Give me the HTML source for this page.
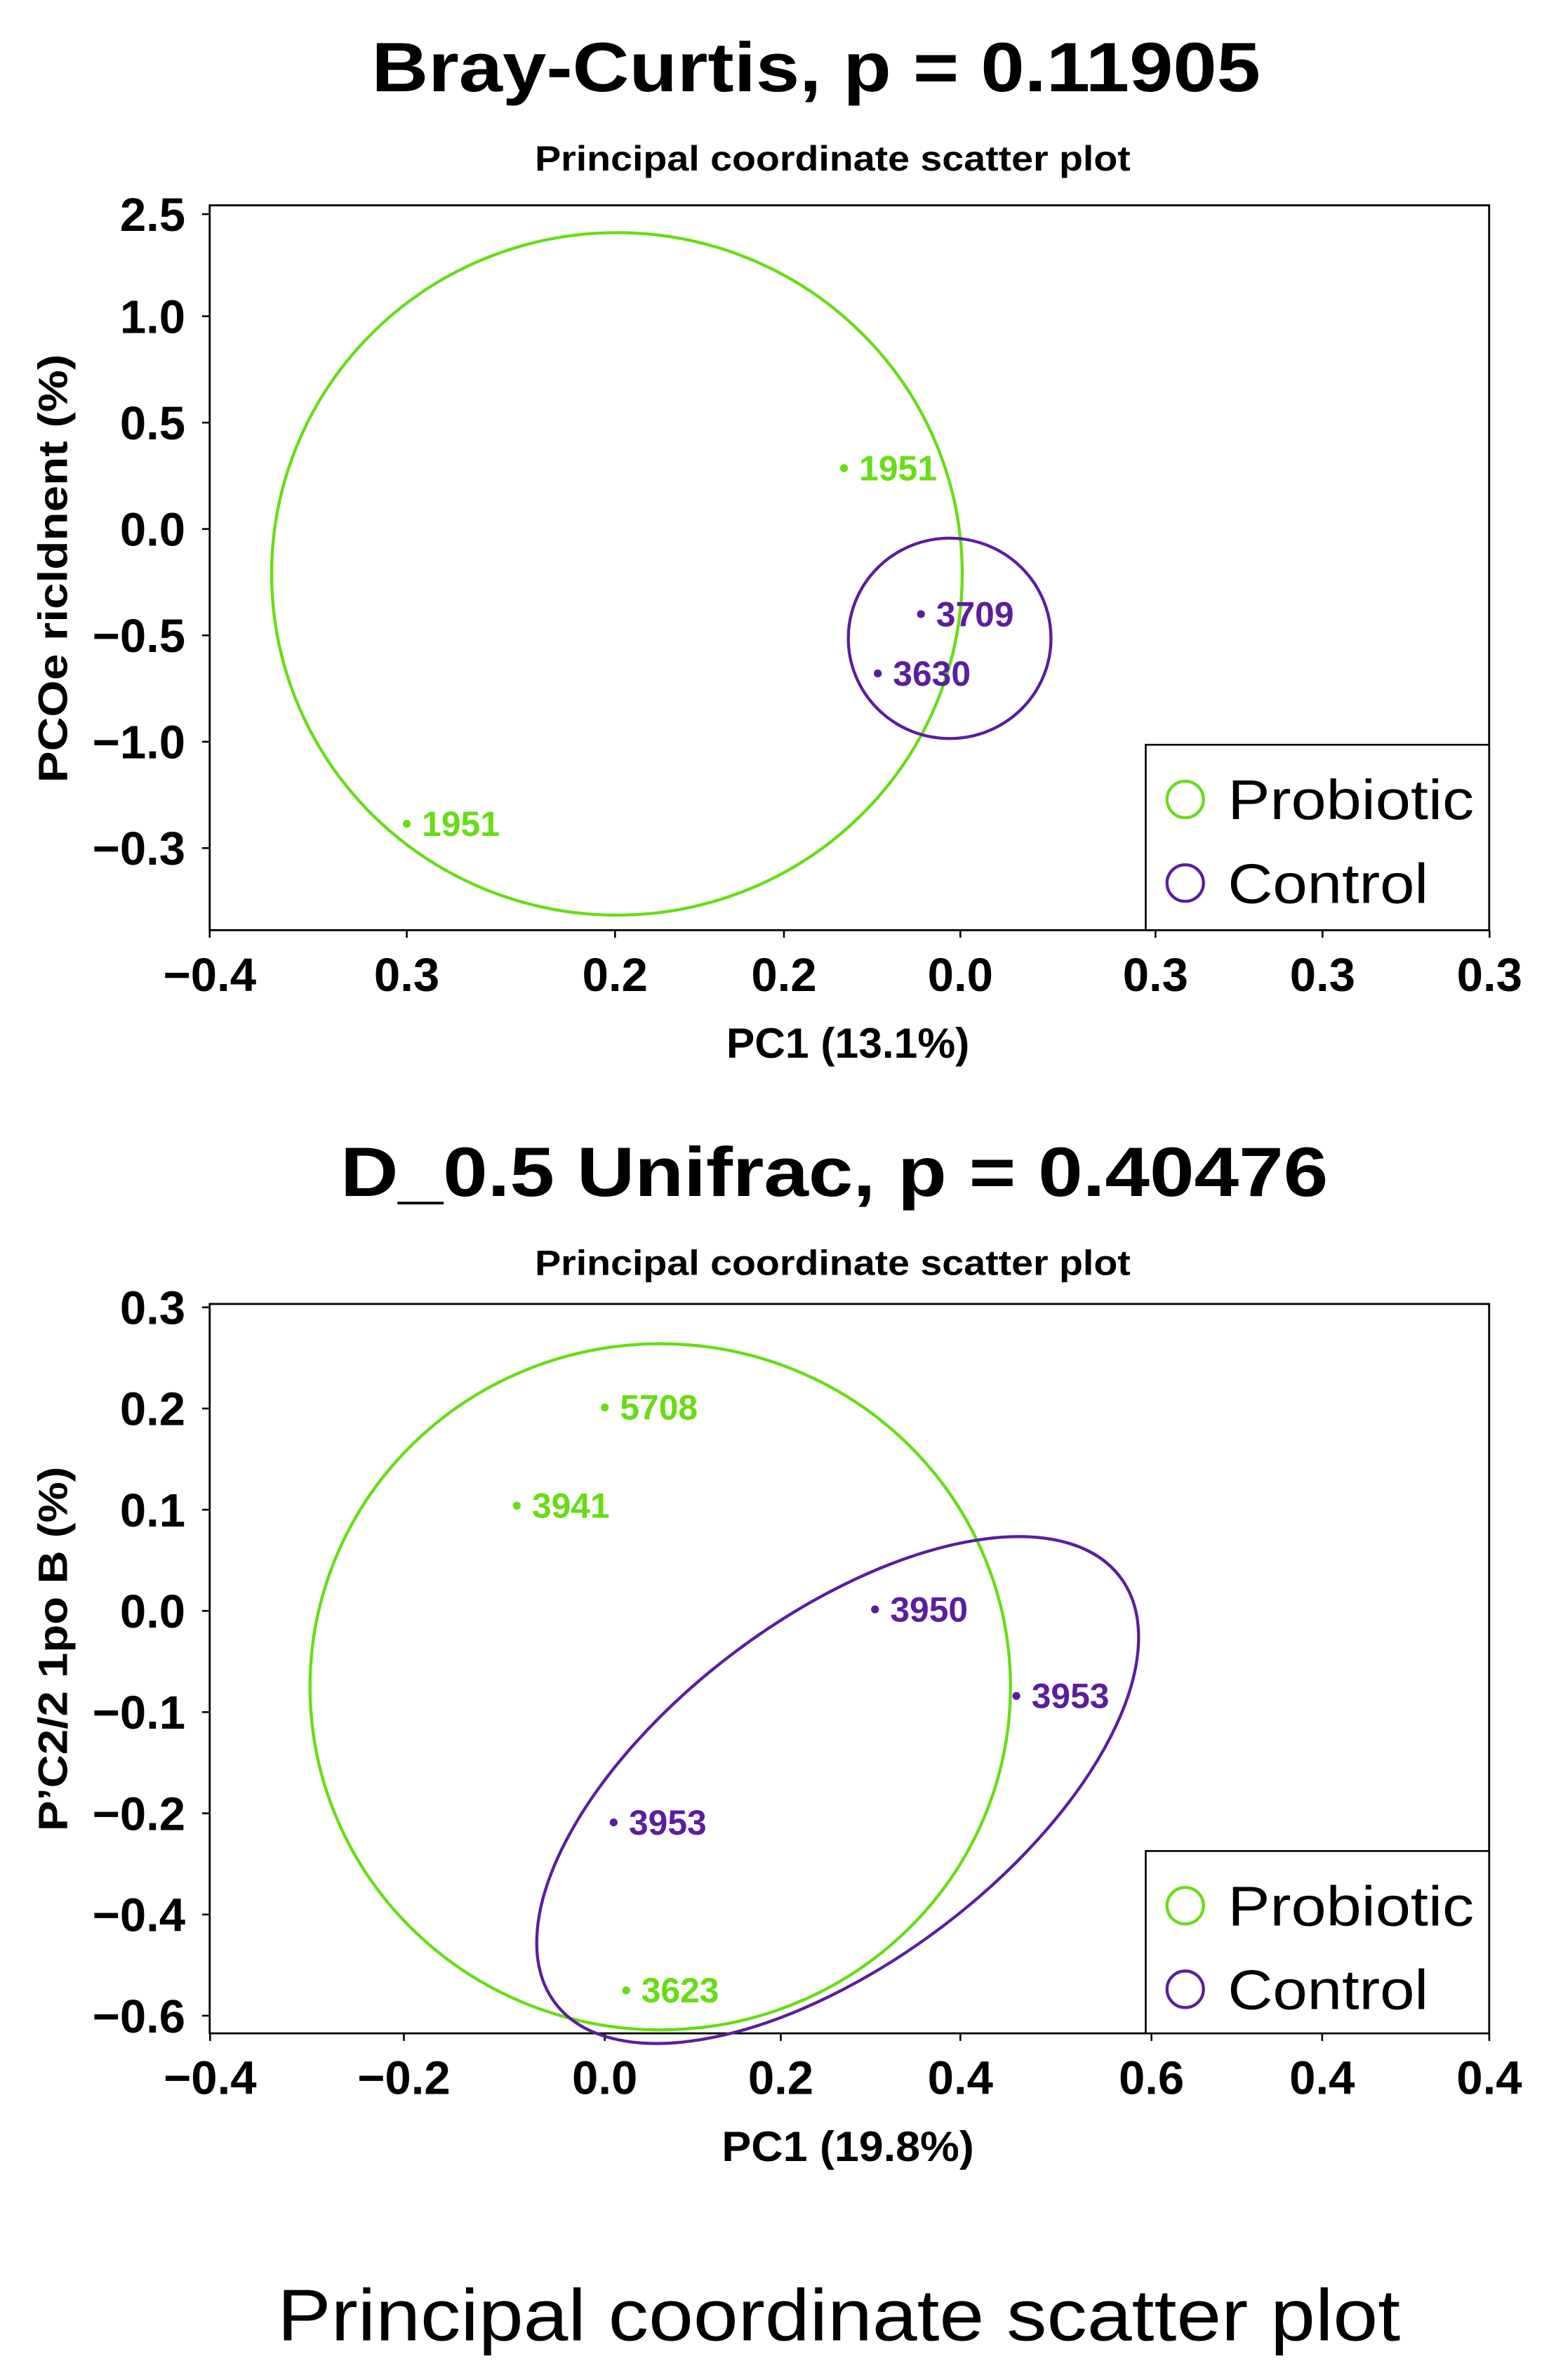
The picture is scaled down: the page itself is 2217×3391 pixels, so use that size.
<!DOCTYPE html>
<html><head><meta charset="utf-8">
<style>
html,body{margin:0;padding:0;background:#fff;}
svg{display:block;font-family:"Liberation Sans",sans-serif;}
</style></head>
<body>
<svg id="fig" width="2217" height="3391" viewBox="0 0 1024 1566" xmlns="http://www.w3.org/2000/svg">
<rect width="1024" height="1566" fill="#fff"/>
<text x="537" y="60" text-anchor="middle" font-size="46" font-weight="bold" textLength="585" lengthAdjust="spacingAndGlyphs">Bray-Curtis, p = 0.11905</text>
<text x="548" y="112" text-anchor="middle" font-size="23" font-weight="bold" textLength="392" lengthAdjust="spacingAndGlyphs">Principal coordinate scatter plot</text>
<text x="549" y="787" text-anchor="middle" font-size="46" font-weight="bold" textLength="650" lengthAdjust="spacingAndGlyphs">D_0.5 Unifrac, p = 0.40476</text>
<text x="548" y="839" text-anchor="middle" font-size="23" font-weight="bold" textLength="392" lengthAdjust="spacingAndGlyphs">Principal coordinate scatter plot</text>
<text x="552" y="1540" text-anchor="middle" font-size="48" textLength="739" lengthAdjust="spacingAndGlyphs">Principal coordinate scatter plot</text>
<g id="top"></g>
<g id="bot"></g>
</svg>
<script>
const GREEN = "#66dd14", PURPLE = "#5a1e9e";
// ---- Top chart data ----
const topXTickValues = [-0.4, -0.295, -0.184, -0.094, 0, 0.104, 0.193, 0.282];
const topXTickLabels = ["\u22120.4","0.3","0.2","0.2","0.0","0.3","0.3","0.3"];
const topYTickValues = [1.48, 1.0, 0.5, 0, -0.5, -1.0, -1.5];
const topYTickLabels = ["2.5","1.0","0.5","0.0","\u22120.5","\u22121.0","\u22120.3"];
const topPointX = [-0.062, -0.295, -0.021, -0.044];
const topPointY = [0.286, -1.386, -0.4, -0.679];
const topPointLabels = ["1951","1951","3709","3630"];
const topPointGroup = [0, 0, 1, 1];
const topEllCx = [-0.183, -0.0057];
const topEllCy = [-0.211, -0.514];
const topEllRx = [0.184, 0.054];
const topEllRy = [1.604, 0.471];
// ---- Bottom chart data ----
const botXTickValues = [-0.444, -0.226, 0, 0.198, 0.4, 0.615, 0.807, 0.995];
const botXTickLabels = ["\u22120.4","\u22120.2","0.0","0.2","0.4","0.6","0.4","0.4"];
const botYTickValues = [0.3, 0.2, 0.1, 0, -0.1, -0.2, -0.3, -0.4];
const botYTickLabels = ["0.3","0.2","0.1","0.0","\u22120.1","\u22120.2","\u22120.4","\u22120.6"];
const botPointX = [0, -0.099, 0.024, 0.304, 0.463, 0.010];
const botPointY = [0.201, 0.104, -0.375, 0.0015, -0.084, -0.209];
const botPointLabels = ["5708","3941","3623","3950","3953","3953"];
const botPointGroup = [0, 0, 0, 1, 1, 1];
const botEllCx = [0.0624, 0.262];
const botEllCy = [-0.075, -0.177];
const botEllRx = [0.394, 0.398];
const botEllRy = [0.339, 0.170];
const botEllRot = [0, -37];
const groupNames = ["Probiotic","Control"];

const NS = "http://www.w3.org/2000/svg";
function mk(parent, tag, attrs, text){
  const e = document.createElementNS(NS, tag);
  for (const k in attrs) e.setAttribute(k, attrs[k]);
  if (text !== undefined) e.textContent = text;
  parent.appendChild(e);
  return e;
}
function drawChart(g, cfg){
  const L=138, R=980, T=cfg.top, B=cfg.bottom;
  const sx = v => cfg.x0 + v*cfg.kx;
  const sy = v => cfg.y0 - v*cfg.ky;
  const box = mk(g,'rect',{x:L,y:T,width:R-L,height:B-T,fill:'none',stroke:'#000','stroke-width':1.3});
  
  
  cfg.xt.forEach((v,i)=>{
    const x=sx(v);
    mk(g,'line',{x1:x,y1:B,x2:x,y2:B+5,stroke:'#000','stroke-width':1.2});
    const t=mk(g,'text',{x:x,y:B+40,'text-anchor':'middle','font-size':31,'font-weight':'bold'},cfg.xl[i]);
    
    
  });
  cfg.yt.forEach((v,i)=>{
    const y=sy(v);
    mk(g,'line',{x1:L-5,y1:y,x2:L,y2:y,stroke:'#000','stroke-width':1.2});
    const t=mk(g,'text',{x:L-16,y:y+11,'text-anchor':'end','font-size':31,'font-weight':'bold'},cfg.yl[i]);
    
    
  });
  const xt=mk(g,'text',{x:558,y:B+84,'text-anchor':'middle','font-size':28,'font-weight':'bold',textLength:cfg.xtLen,lengthAdjust:'spacingAndGlyphs'},cfg.xtitle);
  
  
  const yc=cfg.ytc;
  const yt=mk(g,'text',{x:44,y:yc,'text-anchor':'middle','font-size':27,'font-weight':'bold',transform:`rotate(-90 44 ${yc})`,textLength:cfg.ytLen,lengthAdjust:'spacingAndGlyphs'},cfg.ytitle);
  
  
  cfg.ecx.forEach((cx,i)=>{
    const px=sx(cx), py=sy(cfg.ecy[i]);
    const rot = cfg.erot ? cfg.erot[i] : 0;
    const e=mk(g,'ellipse',{cx:px,cy:py,rx:cfg.erx[i]*cfg.kx,ry:cfg.ery[i]*cfg.ky,fill:'none',stroke:i===0?GREEN:PURPLE,'stroke-width':2,transform:`rotate(${rot} ${px} ${py})`});
    
    
  });
  cfg.px.forEach((v,i)=>{
    const x=sx(v), y=sy(cfg.py[i]);
    const col = cfg.pg[i]===0?GREEN:PURPLE;
    const c=mk(g,'circle',{cx:x,cy:y,r:2.6,fill:col});
    
    
    const t=mk(g,'text',{x:x+10,y:y+8,'font-size':23,'font-weight':'bold',fill:col},cfg.pl[i]);
    
    
  });
  const lg=mk(g,'rect',{x:754,y:cfg.legTop,width:226,height:B-cfg.legTop,fill:'#fff',stroke:'#000','stroke-width':1.2});
  
  
  const legLens=[162,132];
  groupNames.forEach((n,i)=>{
    const y=cfg.legTop+36+i*55;
    const c=mk(g,'circle',{cx:780,cy:y,r:12,fill:'none',stroke:i===0?GREEN:PURPLE,'stroke-width':2});
    
    
    const t=mk(g,'text',{x:808,y:y+13,'font-size':37,textLength:legLens[i],lengthAdjust:'spacingAndGlyphs'},n);
    
    
  });
}
drawChart(document.getElementById('top'),{id:'top',top:135,bottom:612,x0:632,kx:1235,y0:348,ky:140,
  xt:topXTickValues,xl:topXTickLabels,yt:topYTickValues,yl:topYTickLabels,
  px:topPointX,py:topPointY,pl:topPointLabels,pg:topPointGroup,
  ecx:topEllCx,ecy:topEllCy,erx:topEllRx,ery:topEllRy,
  xtitle:'PC1 (13.1%)',xtLen:160,ytitle:'PCOe ricldnent (%)',ytc:374,ytLen:282,legTop:490});
drawChart(document.getElementById('bot'),{id:'bottom',top:858,bottom:1338,x0:398,kx:585,y0:1060,ky:666,
  xt:botXTickValues,xl:botXTickLabels,yt:botYTickValues,yl:botYTickLabels,
  px:botPointX,py:botPointY,pl:botPointLabels,pg:botPointGroup,
  ecx:botEllCx,ecy:botEllCy,erx:botEllRx,ery:botEllRy,erot:botEllRot,
  xtitle:'PC1 (19.8%)',xtLen:166,ytitle:'P\u2019C2/2 1po B (%)',ytc:1085,ytLen:240,legTop:1218});
</script>
</body></html>
